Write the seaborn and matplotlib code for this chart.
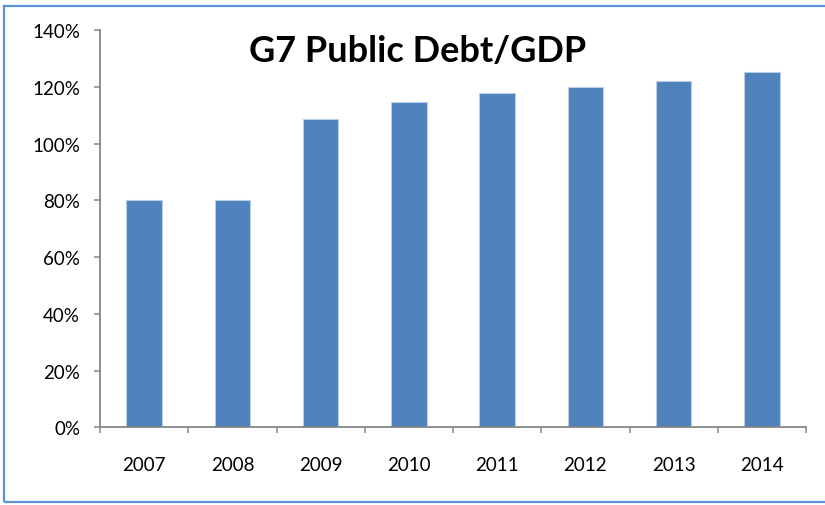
import matplotlib
matplotlib.use("Agg")
import matplotlib.pyplot as plt
from matplotlib.patches import Rectangle
from matplotlib.ticker import FixedLocator, FuncFormatter
import seaborn as sns
import pandas as pd

years = ["2007", "2008", "2009", "2010", "2011", "2012", "2013", "2014"]
debt_to_gdp = [80.0, 80.0, 108.7, 114.7, 117.8, 119.8, 122.1, 125.2]
y_ticks = [0, 20, 40, 60, 80, 100, 120, 140]
title = "G7 Public Debt/GDP"

sns.set_theme(style="white")
plt.rcParams["font.family"] = ["Lato", "DejaVu Sans"]

W, H, DPI = 825, 506, 100
fig = plt.figure(figsize=(W / DPI, H / DPI), dpi=DPI)
fig.patch.set_facecolor("white")

# plot area in pixel coordinates
left, right, top, bottom = 100, 806, 31, 428.3
ax = fig.add_axes([left / W, 1 - bottom / H, (right - left) / W, (bottom - top) / H])

df = pd.DataFrame({"year": years, "debt": debt_to_gdp})
sns.barplot(data=df, x="year", y="debt", ax=ax, color="#4F81BD", saturation=1,
            width=0.4, edgecolor="#B9CDE5", linewidth=0.8, errorbar=None)

ax.set_xlim(-0.5, len(years) - 0.5)
ax.set_ylim(0, 140)
ax.set_xlabel("")
ax.set_ylabel("")

axis_gray = "#868686"
for side in ["top", "right"]:
    ax.spines[side].set_visible(False)
for side in ["left", "bottom"]:
    ax.spines[side].set_color(axis_gray)
    ax.spines[side].set_linewidth(1.3)

ax.yaxis.set_major_locator(FixedLocator(y_ticks))
ax.yaxis.set_major_formatter(FuncFormatter(lambda v, p: f"{v:.0f}%"))
ax.tick_params(axis="y", which="major", direction="out", length=4.3, width=1.1,
               color=axis_gray, pad=10, labelsize=13.5, labelcolor="black", left=True)

# category boundaries carry the tick marks, labels sit at the centres
ax.xaxis.set_minor_locator(FixedLocator([i - 0.5 for i in range(len(years) + 1)]))
ax.tick_params(axis="x", which="minor", direction="out", length=4.3, width=1.1,
               color=axis_gray, bottom=True)
ax.tick_params(axis="x", which="major", length=0, pad=21, labelsize=13.5,
               labelcolor="black")

fig.text(418 / W, 1 - 52 / H, title, ha="center", va="center",
         fontsize=26, fontweight="bold", color="black")

# chart frame
fig.patches.append(Rectangle((4 / W, 1 - 503 / H), 840 / W, (503 - 6.5) / H,
                             transform=fig.transFigure, fill=False,
                             edgecolor="#5B8FD6", linewidth=1.6))

fig.savefig("out.png", dpi=DPI, facecolor="white")
